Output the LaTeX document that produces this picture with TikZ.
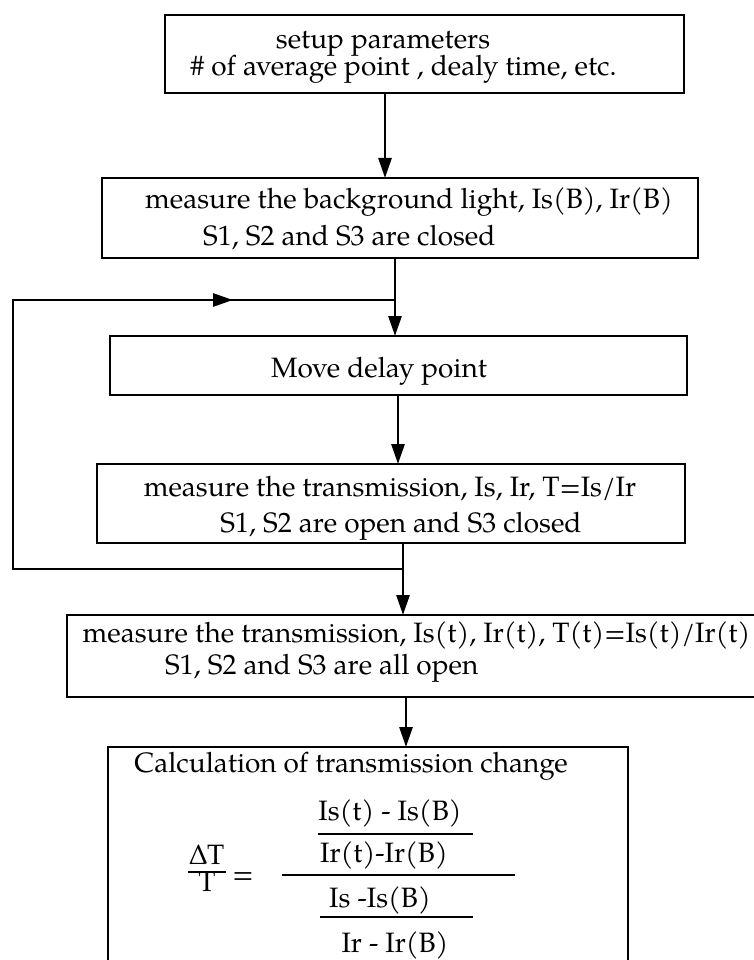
\documentclass[tikz,border=0pt]{standalone}
\usepackage{fontspec}
\setmainfont{TeX Gyre Pagella}
\usetikzlibrary{arrows.meta}
\begin{document}
\begin{tikzpicture}[x=1pt,y=-1pt,
  box/.style={draw, line width=2.8pt, inner sep=0pt, outer sep=0pt},
  lbl/.style={inner sep=0pt, font=\fontsize{28}{28}\selectfont},
  txt/.style={lbl, anchor=base west},
  ctxt/.style={lbl, anchor=base},
  rtxt/.style={lbl, anchor=base east},
  link/.style={line width=2.8pt},
  flow/.style={link, -{Triangle[length=20pt,width=13pt]}},
  bar/.style={line width=2pt}]
\useasboundingbox (0,0) rectangle (753,960);

% process boxes
\node[box, minimum width=519pt, minimum height=78pt] (b1) at (424.5,54) {};
\node[box, minimum width=596pt, minimum height=80pt] (b2) at (400,218) {};
\node[box, minimum width=577pt, minimum height=59pt] (b3) at (398.5,365.5) {};
\node[box, minimum width=588pt, minimum height=79pt] (b4) at (391,503.5) {};
\node[box, minimum width=733pt, minimum height=82pt] (b5) at (433.5,656) {};
\node[box, minimum width=520pt, minimum height=260pt] (b6) at (368,877) {};

% box texts
\node[ctxt] (t1a) at (383,49) {setup parameters};
\node[ctxt] (t1b) at (403.5,76) {\# of average point , dealy time, etc.};
\node[ctxt] (t2a) at (409,208) {measure the background light, Is(B), Ir(B)};
\node[txt] (t2b) at (203,245) {S1, S2 and S3 are closed};
\node[ctxt] (t3a) at (379,377) {Move delay point};
\node[ctxt] (t4a) at (390,496) {measure the transmission, Is, Ir, T=Is/Ir};
\node[ctxt] (t4b) at (401,532) {S1, S2 are open and S3 closed};
\node[ctxt] (t5a) at (416.5,642) {measure the transmission, Is(t), Ir(t), T(t)=Is(t)/Ir(t)};
\node[txt] (t5b) at (165,674) {S1, S2 and S3 are all open};
\node[rtxt] (t6a) at (568,772) {Calculation of transmission change};

% formula for the transmission change
\node[ctxt] (dT) at (207,864) {∆T};
\node[ctxt] (dTd) at (207,891) {T};
\node[ctxt] (eq) at (243,883) {=};
\node[ctxt] (n1) at (390,820) {Is(t) - Is(B)};
\node[ctxt] (n2) at (384,862) {Ir(t)-Ir(B)};
\node[ctxt] (d1) at (380,907) {Is -Is(B)};
\node[ctxt] (d2) at (395,952) {Ir - Ir(B)};
\coordinate (fa) at (188,872); \coordinate (fb) at (226,872);
\coordinate (ma) at (282,875); \coordinate (mb) at (515,875);
\coordinate (ua) at (318,834); \coordinate (ub) at (473,834);
\coordinate (la) at (320,917); \coordinate (lb2) at (473,917);
\draw[bar] (fa) -- (fb);
\draw[bar] (ma) -- (mb);
\draw[bar] (ua) -- (ub);
\draw[bar] (la) -- (lb2);

% connector columns
\coordinate (x1) at (385,0);
\coordinate (x2) at (395,0);
\coordinate (x3) at (398,0);
\coordinate (x4) at (403,0);
\coordinate (x5) at (406,0);

\draw[flow] (b1.south -| x1) -- (b2.north -| x1);
\draw[flow] (b2.south -| x2) -- (b3.north -| x2);
\draw[flow] (b3.south -| x3) -- (b4.north -| x3);
\draw[flow] (b4.south -| x4) -- (b5.north -| x4);
\draw[flow] (b5.south -| x5) -- (b6.north -| x5);

% repeat loop back to the delay step
\coordinate (jb) at (403,569);
\coordinate (lbot) at (13,569);
\coordinate (ltop) at (13,300);
\coordinate (lmid) at (233,300);
\coordinate (jt) at (395,300);
\draw[link, line join=miter] (jb) -- (lbot) -- (ltop) -- (jt);
\draw[flow] (ltop) -- (lmid);
\end{tikzpicture}
\end{document}
